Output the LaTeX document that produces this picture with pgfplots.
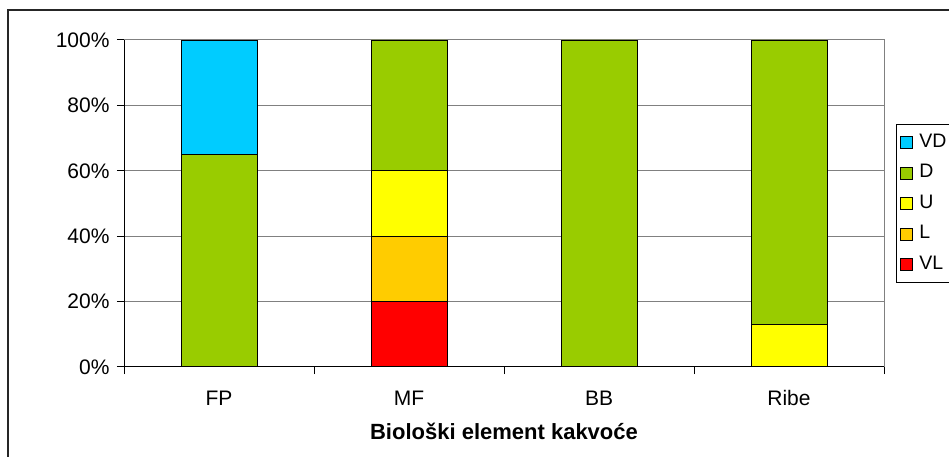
\documentclass[border=0pt]{standalone}
\usepackage{pgfplots}
\pgfplotsset{compat=1.18}
\usepackage{fontspec}
\setmainfont{Liberation Sans}
\definecolor{cVD}{HTML}{00CCFF}
\definecolor{cD}{HTML}{99CC00}
\definecolor{cU}{HTML}{FFFF00}
\definecolor{cL}{HTML}{FFCC00}
\definecolor{cVL}{HTML}{FF0000}
\definecolor{gridc}{HTML}{808080}
\begin{document}
\begin{tikzpicture}[x=1pt,y=1pt]
\useasboundingbox (0,0) rectangle (949,457);
\clip (0,0) rectangle (949,457);
\fill[white] (0,0) rectangle (949,457);
\draw[line width=2.5pt, black!85] (8,-20) -- (8,447) -- (980,447);
\begin{axis}[
  at={(124pt,90pt)}, anchor=south west,
  width=760pt, height=327pt, scale only axis,
  ybar stacked, bar width=76pt,
  xmin=-0.5, xmax=3.5, ymin=0, ymax=100,
  xtick={-0.5,0.5,1.5,2.5,3.5},
  x tick label as interval,
  xticklabels={FP,MF,BB,Ribe},
  xtick pos=bottom, ytick pos=left,
  major tick length=7pt,
  tick align=outside,
  ytick={0,20,40,60,80,100},
  yticklabels={0\%,20\%,40\%,60\%,80\%,100\%},
  ymajorgrids, grid style={gridc, line width=1pt},
  axis line style={gridc, line width=1pt},
  tick style={black, line width=1pt},
  ticklabel style={font=\fontsize{21}{25}\selectfont},
  xticklabel style={anchor=base, yshift=-31pt},
  yticklabel style={anchor=east, xshift=-4pt},
  xlabel={Biološki element kakvoće},
  xlabel style={at={(axis description cs:0.5,-0.222)}, anchor=base, font=\bfseries\fontsize{22}{26}\selectfont},
  every axis plot/.append style={draw=black, line width=0.8pt},
  reverse legend,
  legend cell align=left,
  legend image code/.code={\draw[#1, draw=black, line width=0.8pt] (0pt,-6pt) rectangle (12pt,6pt);},
  legend style={at={(axis description cs:1.0158,0.743)}, anchor=north west, draw=black, line width=1pt,
    font=\fontsize{19.5}{23}\selectfont, inner xsep=3.5pt, inner ysep=7.5pt,
    nodes={inner ysep=2pt, inner xsep=3.5pt, text height=13pt, text depth=4pt}, row sep=9.5pt, column sep=3pt},
  after end axis/.code={\draw[black, line width=1pt] (rel axis cs:0,1) -- (rel axis cs:0,0) -- (rel axis cs:1,0);},
]
\addplot[fill=cVL] coordinates {(0,0) (1,20) (2,0) (3,0)};
\addplot[fill=cL] coordinates {(0,0) (1,20) (2,0) (3,0)};
\addplot[fill=cU] coordinates {(0,0) (1,20) (2,0) (3,13)};
\addplot[fill=cD] coordinates {(0,65) (1,40) (2,100) (3,87)};
\addplot[fill=cVD] coordinates {(0,35) (1,0) (2,0) (3,0)};
\legend{VL,L,U,D,VD}
\end{axis}
\end{tikzpicture}
\end{document}
